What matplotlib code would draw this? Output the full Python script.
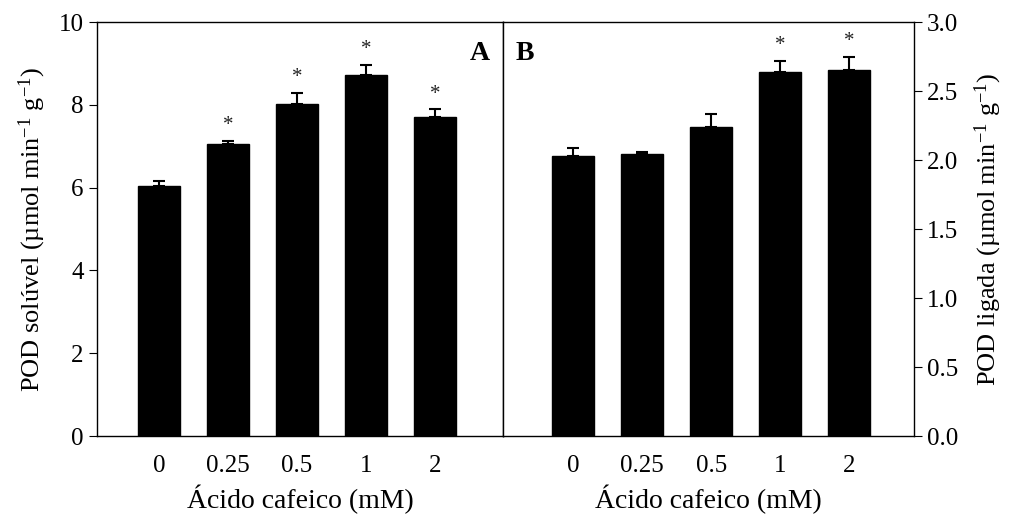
import numpy as np
import matplotlib
matplotlib.use('Agg')
import matplotlib.pyplot as plt

plt.rcParams['font.family'] = ['Liberation Serif', 'DejaVu Serif']
plt.rcParams['mathtext.fontset'] = 'custom'
plt.rcParams['mathtext.rm'] = 'Liberation Serif'
plt.rcParams['mathtext.it'] = 'Liberation Serif:italic'

# data
conc = ['0', '0.25', '0.5', '1', '2']
pod_soluvel = [6.04, 7.05, 8.01, 8.73, 7.71]
pod_soluvel_err = [0.13, 0.08, 0.28, 0.24, 0.18]
sig_soluvel = [False, True, True, True, True]

pod_ligada = [2.03, 2.04, 2.24, 2.64, 2.65]
pod_ligada_err = [0.06, 0.02, 0.09, 0.08, 0.10]
sig_ligada = [False, False, False, True, True]

tick_fs = 18
label_fs = 19
fig = plt.figure(figsize=(10.24, 5.19), dpi=100)
ax1 = fig.add_axes([0.0947, 0.1599, 0.3965, 0.7977])
ax2 = fig.add_axes([0.4912, 0.1599, 0.4014, 0.7977])

x = np.arange(len(conc))


def draw(ax, vals, errs, sig, ymax, star_pad):
    ax.bar(x, vals, width=0.61, color='black', edgecolor='black', zorder=2)
    ax.errorbar(x, vals, yerr=[np.zeros(len(errs)), errs], fmt='none',
                ecolor='black', elinewidth=1.5, capsize=4.5, capthick=1.5, zorder=3)
    for xi, v, e, s in zip(x, vals, errs, sig):
        if s:
            ax.text(xi, v + e + star_pad, '*', ha='center', va='center',
                    fontsize=15, color='#222222')
    ax.set_xticks(x)
    ax.set_xticklabels(conc, fontsize=tick_fs)
    ax.tick_params(axis='x', length=0, pad=14)
    ax.set_ylim(0, ymax)
    ax.set_xlabel('Ácido cafeico (mM)', fontsize=20, labelpad=5)
    for sp in ax.spines.values():
        sp.set_linewidth(1.0)


draw(ax1, pod_soluvel, pod_soluvel_err, sig_soluvel, 10, 0.36)
ax1.set_xlim(-0.9, 4.99)
ax1.set_yticks([0, 2, 4, 6, 8, 10])
ax1.tick_params(axis='y', direction='out', length=6, labelsize=tick_fs)
ax1.set_ylabel('POD solúvel (µmol min$^{-1}$ g$^{-1}$)', fontsize=label_fs, labelpad=8)
ax1.text(0.968, 0.925, 'A', transform=ax1.transAxes, ha='right', va='center',
         fontsize=20, fontweight='bold')

draw(ax2, pod_ligada, pod_ligada_err, sig_ligada, 3.0, 0.11)
ax2.set_xlim(-1.02, 4.94)
ax2.yaxis.tick_right()
ax2.yaxis.set_label_position('right')
yt = np.arange(0, 3.01, 0.5)
ax2.set_yticks(yt)
ax2.set_yticklabels(['%.1f' % t for t in yt])
ax2.tick_params(axis='y', direction='out', length=6, labelsize=tick_fs)
ax2.set_ylabel('POD ligada (µmol min$^{-1}$ g$^{-1}$)', fontsize=label_fs, labelpad=10)
ax2.text(0.03, 0.925, 'B', transform=ax2.transAxes, ha='left', va='center',
         fontsize=20, fontweight='bold')

fig.savefig('out.png', dpi=100)
